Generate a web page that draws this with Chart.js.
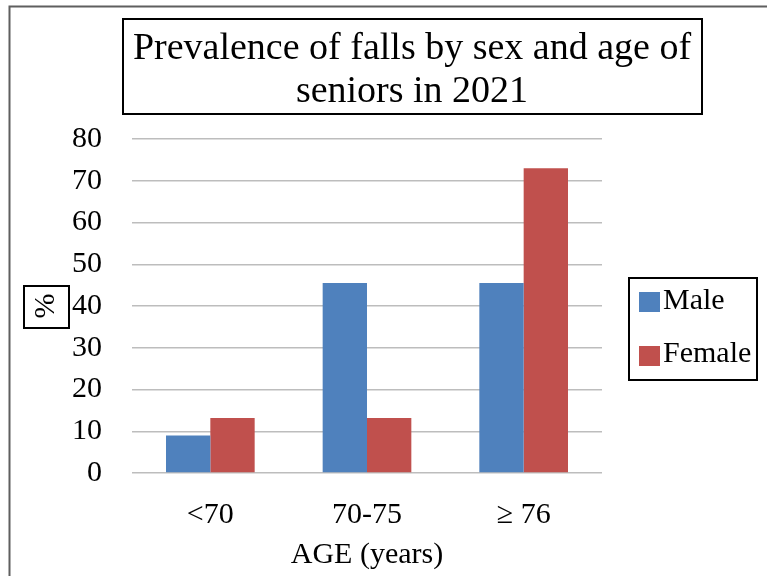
<!DOCTYPE html>
<html>
<head>
<meta charset="utf-8">
<script src="https://cdn.jsdelivr.net/npm/chart.js@4/dist/chart.umd.min.js"></script>
<style>
  html, body { margin: 0; padding: 0; background: #ffffff; }
  #wrap { width: 767px; height: 576px; position: relative; }
</style>
</head>
<body>
<div id="wrap"><canvas id="c" width="767" height="576"></canvas></div>
<script>
const titleLines = ["Prevalence of falls by sex and age of", "seniors in 2021"];
const categories = ["<70", "70-75", "\u2265 76"];
const seriesNames = ["Male", "Female"];
const maleValues = [9.0, 45.5, 45.5];
const femaleValues = [13.2, 13.2, 73.0];
const yTickValues = [0, 10, 20, 30, 40, 50, 60, 70, 80];
const yAxisTitle = "%";
const xAxisTitle = "AGE (years)";

const colors = ["#4F81BD", "#C0504D"];
const FONT = "'Liberation Serif', 'Times New Roman', serif";

const decorPlugin = {
  id: 'decor',
  afterDraw(chart) {
    const ctx = chart.ctx;
    ctx.save();
    // outer frame (top and left edges)
    ctx.strokeStyle = '#5f5f5f';
    ctx.lineWidth = 2;
    ctx.beginPath();
    ctx.moveTo(9.5, 576);
    ctx.lineTo(9.5, 6.5);
    ctx.lineTo(767, 6.5);
    ctx.stroke();

    // title box + text
    ctx.strokeStyle = '#000000';
    ctx.lineWidth = 2;
    ctx.strokeRect(123, 19, 579, 95);
    ctx.fillStyle = '#000000';
    ctx.font = "38px " + FONT;
    ctx.textAlign = 'center';
    ctx.textBaseline = 'alphabetic';
    ctx.fillText(titleLines[0], 412, 59);
    ctx.fillText(titleLines[1], 412, 102);

    // y-axis title box
    ctx.strokeRect(24, 286, 45, 42);

    // legend box
    ctx.strokeRect(629, 278, 128, 102);
    const swatchY = [292, 346];
    const textY = [301, 354];
    ctx.font = "30px " + FONT;
    ctx.textAlign = 'left';
    ctx.textBaseline = 'middle';
    chart.data.datasets.forEach((ds, i) => {
      ctx.fillStyle = ds.backgroundColor;
      ctx.fillRect(639, swatchY[i], 21, 20);
      ctx.fillStyle = '#000000';
      ctx.fillText(ds.label, 663, textY[i]);
    });
    ctx.restore();
  }
};

new Chart(document.getElementById('c'), {
  type: 'bar',
  data: {
    labels: categories,
    datasets: [
      { label: seriesNames[0], data: maleValues, backgroundColor: colors[0] },
      { label: seriesNames[1], data: femaleValues, backgroundColor: colors[1] }
    ]
  },
  options: {
    responsive: false,
    animation: false,
    devicePixelRatio: 1,
    layout: { padding: { top: 139, right: 165, left: 0, bottom: 0 } },
    plugins: {
      legend: { display: false },
      title: { display: false },
      tooltip: { enabled: false }
    },
    datasets: {
      bar: { categoryPercentage: 0.566, barPercentage: 1.0 }
    },
    scales: {
      x: {
        grid: { display: false, drawTicks: false },
        border: { display: false },
        ticks: {
          color: '#000000',
          font: { family: FONT, size: 30 },
          padding: 24,
          maxRotation: 0
        },
        title: {
          display: true,
          text: xAxisTitle,
          color: '#000000',
          font: { family: FONT, size: 30 },
          padding: { top: 3, bottom: 3 }
        },
        afterFit(scale) { scale.height = 103; }
      },
      y: {
        min: 0,
        max: 80,
        afterBuildTicks(scale) { scale.ticks = yTickValues.map(v => ({ value: v })); },
        grid: { color: '#bdbdbd', lineWidth: 1.5, drawTicks: false },
        border: { display: false },
        ticks: {
          color: '#000000',
          font: { family: FONT, size: 30 },
          padding: 30
        },
        title: {
          display: true,
          text: yAxisTitle,
          color: '#000000',
          font: { family: FONT, size: 30 },
          padding: { top: 28, bottom: 0 }
        },
        afterFit(scale) { scale.width = 132; }
      }
    }
  },
  plugins: [decorPlugin]
});
</script>
</body>
</html>
